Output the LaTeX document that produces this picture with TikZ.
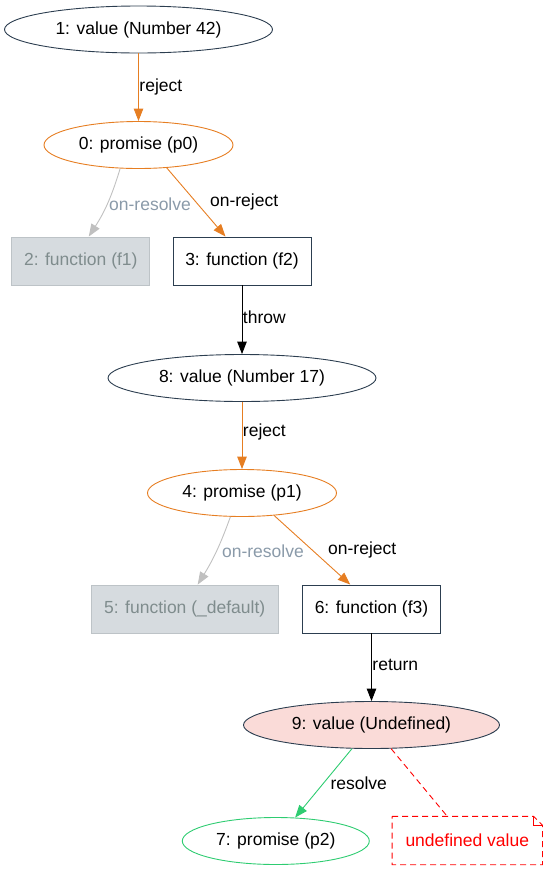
\documentclass[tikz,border=0pt]{standalone}
\usepackage{fontspec}
\setmainfont{Liberation Sans}
\usetikzlibrary{shapes.geometric,arrows.meta,calc}
\definecolor{slate}{HTML}{2C3E50}
\definecolor{orng}{HTML}{E67E22}
\definecolor{ghostline}{HTML}{C0C0C0}
\definecolor{ghostbd}{HTML}{BDC3C7}
\definecolor{ghostfill}{HTML}{D6DBDF}
\definecolor{ghosttext}{HTML}{7F8C8D}
\definecolor{ghostlbl}{HTML}{8A9AA9}
\definecolor{pinkfill}{HTML}{FADBD8}
\definecolor{grn}{HTML}{2ECC71}
\definecolor{rd}{HTML}{FF0000}
\begin{document}
\begin{tikzpicture}[x=1pt,y=-1pt,
  every node/.style={font=\fontsize{17.5}{20}\selectfont},
  ell/.style={ellipse, draw=slate, line width=0.9pt, inner sep=0pt, minimum height=47pt},
  prom/.style={ell, draw=orng},
  fbox/.style={rectangle, draw=slate, line width=0.9pt, inner sep=0pt, minimum height=48pt},
  ghost/.style={fbox, draw=ghostbd, fill=ghostfill, text=ghosttext},
  edge/.style={line width=0.9pt, -{Triangle[length=12.5pt,width=9.5pt]}},
  oedge/.style={edge, draw=orng},
  gedge/.style={edge, draw=ghostline},
  kedge/.style={edge, draw=black},
  lbl/.style={anchor=west, inner sep=0.5pt, text=black},
  glbl/.style={lbl, text=ghostlbl},
  reddash/.style={draw=rd, line width=0.9pt, dash pattern=on 6pt off 4pt}
]
\useasboundingbox (0,0) rectangle (548,871);

\node[ell, minimum width=268pt] (n1) at (138.5,29.5) {1: value (Number 42)};
\node[prom, minimum width=189pt] (n0) at (138.5,145) {0: promise (p0)};
\node[ghost, minimum width=138pt] (n2) at (80.8,261) {2: function (f1)};
\node[fbox, minimum width=138pt] (n3) at (242,261) {3: function (f2)};
\node[ell, minimum width=268pt] (n8) at (242,378) {8: value (Number 17)};
\node[prom, minimum width=189pt] (n4) at (242,493) {4: promise (p1)};
\node[ghost, minimum width=187pt] (n5) at (184.7,609) {5: function (\_default)};
\node[fbox, minimum width=138pt] (n6) at (371.5,609) {6: function (f3)};
\node[ell, fill=pinkfill, minimum width=256pt] (n9) at (371.5,725) {9: value (Undefined)};
\node[ell, draw=grn, minimum width=187pt] (n7) at (275.8,841) {7: promise (p2)};
\node[text=rd, minimum width=150pt, minimum height=48pt, inner sep=0pt] (note) at (467.3,840.5) {undefined value};
\draw[reddash]
  (note.north west) -- ($(note.north east)+(-9,0)$) -- ($(note.north east)+(0,9)$)
  -- (note.south east) -- (note.south west) -- cycle;
\draw[rd, line width=0.9pt]
  ($(note.north east)+(-9,0)$) -- ($(note.north east)+(-9,9)$) -- ($(note.north east)+(0,9)$);

\draw[oedge] (n1) -- node[lbl, pos=0.5] {reject} (n0);
\draw[gedge] (n0.232.8) to[bend left=8] node[glbl, pos=0.5, xshift=1pt] {on-resolve} (n2.72.8);
\draw[oedge] (n0.-39.6) -- node[lbl, pos=0.5, xshift=13pt] {on-reject} (n3.124.8);
\draw[kedge] (n3) -- node[lbl, pos=0.47] {throw} (n8);
\draw[oedge] (n8) -- node[lbl, pos=0.45] {reject} (n4);
\draw[gedge] (n4.-116.9) to[bend left=6] node[glbl, pos=0.5, xshift=5pt] {on-resolve} (n5.62.4);
\draw[oedge] (n4.-35.7) -- node[lbl, pos=0.5, xshift=15pt] {on-reject} (n6.131.7);
\draw[kedge] (n6) -- node[lbl, pos=0.47] {return} (n9);
\draw[edge, draw=grn] (n9) -- node[lbl, pos=0.5, xshift=6pt] {resolve} (n7);
\draw[reddash] (n9) -- (note);
\end{tikzpicture}
\end{document}
